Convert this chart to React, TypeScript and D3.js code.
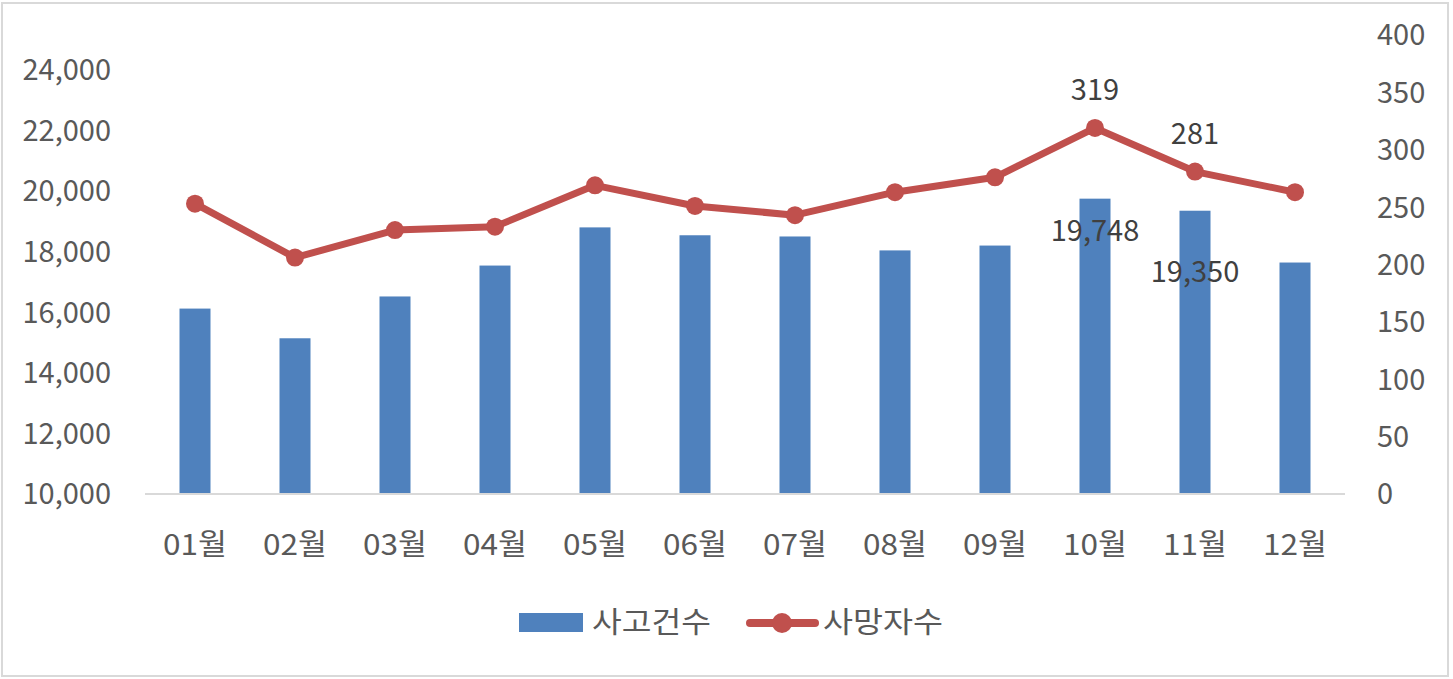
import React from "react";
import * as d3 from "d3";

const width = 1453;
const height = 679;

const months = ["01월", "02월", "03월", "04월", "05월", "06월", "07월", "08월", "09월", "10월", "11월", "12월"];
const accidents = [16120, 15140, 16520, 17540, 18800, 18540, 18500, 18040, 18200, 19748, 19350, 17640];
const deaths = [253, 206, 230, 233, 269, 251, 243, 263, 276, 319, 281, 263];
const leftTicks = [10000, 12000, 14000, 16000, 18000, 20000, 22000, 24000];
const rightTicks = [0, 50, 100, 150, 200, 250, 300, 350, 400];
const labeledIdx = [9, 10];

const plotLeft = 145;
const plotRight = 1345;
const plotTop = 35;
const plotBottom = 494;

const font = "'Noto Sans CJK KR', 'Noto Sans', sans-serif";
const textColor = "#595959";
const barColor = "#4F81BD";
const lineColor = "#C0504D";

const x = d3.scaleBand<string>().domain(months).range([plotLeft, plotRight]).paddingInner(0.69).paddingOuter(0.345);
const yLeft = d3.scaleLinear().domain([10000, 25150]).range([plotBottom, plotTop]);
const yRight = d3.scaleLinear().domain([0, 400]).range([plotBottom, plotTop]);
const cx = (m: string) => (x(m) ?? 0) + x.bandwidth() / 2;

const line = d3
  .line<number>()
  .x((_, i) => cx(months[i]))
  .y((d) => yRight(d));

const fmt = d3.format(",");

const App = () => {
  return (
    <svg width={width} height={height} style={{ display: "block", position: "absolute", left: 0, top: 0 }}>
      <rect x={0} y={0} width={width} height={height} fill="#fff" />
      <rect x={2} y={3} width={1446} height={673} fill="none" stroke="#d9d9d9" strokeWidth={2} />

      {leftTicks.map((t) => (
        <text key={t} x={111} y={yLeft(t)} dy="0.36em" textAnchor="end" fontFamily={font} fontSize={29} fill={textColor}>
          {fmt(t)}
        </text>
      ))}
      {rightTicks.map((t) => (
        <text key={t} x={1377} y={yRight(t)} dy="0.36em" textAnchor="start" fontFamily={font} fontSize={29} fill={textColor}>
          {t}
        </text>
      ))}

      {months.map((m, i) => (
        <rect
          key={m}
          x={x(m)}
          y={yLeft(accidents[i])}
          width={x.bandwidth()}
          height={plotBottom - yLeft(accidents[i])}
          fill={barColor}
        />
      ))}

      <line x1={plotLeft} x2={plotRight} y1={plotBottom} y2={plotBottom} stroke="#d9d9d9" strokeWidth={2} />

      {months.map((m) => (
        <text
          key={m}
          x={cx(m)}
          y={545}
          dy="0.36em"
          textAnchor="middle"
          fontFamily={font}
          fontSize={29}
          fill={textColor}
          textLength={64}
          lengthAdjust="spacingAndGlyphs"
        >
          {m}
        </text>
      ))}

      <path d={line(deaths) ?? ""} fill="none" stroke={lineColor} strokeWidth={7} strokeLinejoin="round" />
      {deaths.map((d, i) => (
        <circle key={i} cx={cx(months[i])} cy={yRight(d)} r={9} fill={lineColor} />
      ))}

      {labeledIdx.map((i) => (
        <g key={i}>
          <text x={cx(months[i])} y={yRight(deaths[i]) - 38} dy="0.36em" textAnchor="middle" fontFamily={font} fontSize={29} fill="#404040">
            {deaths[i]}
          </text>
          <text x={cx(months[i])} y={yLeft(accidents[i]) + 32 + (i === 10 ? 29 : 0)} dy="0.36em" textAnchor="middle" fontFamily={font} fontSize={29} fill="#404040">
            {fmt(accidents[i])}
          </text>
        </g>
      ))}

      <rect x={519} y={613} width={64} height={19} fill={barColor} />
      <text x={592} y={623} dy="0.36em" fontFamily={font} fontSize={29} fill={textColor} textLength={119} lengthAdjust="spacingAndGlyphs">
        사고건수
      </text>
      <line x1={750} x2={815} y1={623} y2={623} stroke={lineColor} strokeWidth={8} strokeLinecap="round" />
      <circle cx={782} cy={623} r={10} fill={lineColor} />
      <text x={823} y={623} dy="0.36em" fontFamily={font} fontSize={29} fill={textColor} textLength={120} lengthAdjust="spacingAndGlyphs">
        사망자수
      </text>
    </svg>
  );
};

export default App;
